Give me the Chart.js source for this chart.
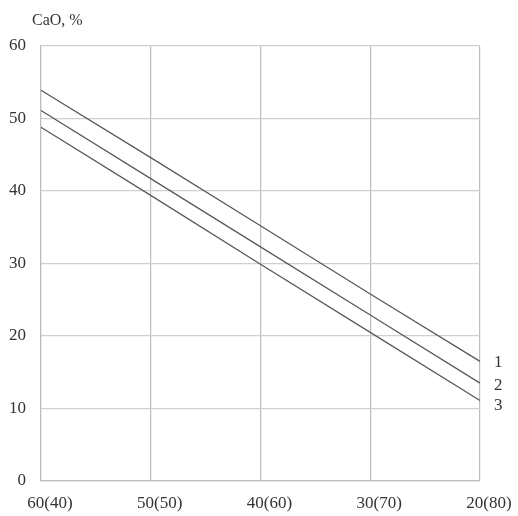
<!DOCTYPE html>
<html>
<head>
<meta charset="utf-8">
<script src="https://cdn.jsdelivr.net/npm/chart.js@4.4.1/dist/chart.umd.min.js"></script>
<style>
  html, body { margin: 0; padding: 0; background: #fff; }
  #wrap { width: 518px; height: 516px; }
</style>
</head>
<body>
<div id="wrap"><canvas id="caoChart" width="518" height="516"></canvas></div>
<script>
// Chart data
const categories = ['60(40)', '50(50)', '40(60)', '30(70)', '20(80)'];
const line1 = [53.9, 44.6, 35.2, 25.8, 16.5];
const line2 = [51.1, 41.7, 32.3, 22.9, 13.5];
const line3 = [48.8, 39.4, 29.9, 20.5, 11.1];
const lineNames = ['1', '2', '3'];
const yTicks = [0, 10, 20, 30, 40, 50, 60];

const fontFamily = '"Liberation Serif", "DejaVu Serif", serif';
const lineColor = '#5a5a5a';
const nameShift = [1, 2, 5];

// Title above the axis and the curve numbers at the right edge
const labelsPlugin = {
  id: 'labels',
  afterDraw(chart) {
    const ctx = chart.ctx;
    const area = chart.chartArea;
    ctx.save();
    ctx.fillStyle = '#333';
    ctx.font = '16px ' + fontFamily;
    ctx.textBaseline = 'middle';
    ctx.textAlign = 'left';
    ctx.fillText('CaO, %', 32, 21);

    ctx.font = '17px ' + fontFamily;
    chart.data.datasets.forEach((ds, i) => {
      const meta = chart.getDatasetMeta(i);
      const last = meta.data[meta.data.length - 1];
      ctx.fillText(lineNames[i], area.right + 14, last.y + nameShift[i]);
    });
    ctx.restore();
  }
};

function makeDataset(values) {
  return {
    data: values,
    borderColor: lineColor,
    borderWidth: 1.3,
    pointRadius: 0,
    tension: 0,
    fill: false
  };
}

new Chart(document.getElementById('caoChart'), {
  type: 'line',
  data: {
    labels: categories,
    datasets: [makeDataset(line1), makeDataset(line2), makeDataset(line3)]
  },
  options: {
    responsive: false,
    animation: false,
    layout: {
      padding: { top: 46, right: 38, bottom: 0, left: 0 }
    },
    plugins: {
      legend: { display: false },
      tooltip: { enabled: false }
    },
    scales: {
      x: {
        type: 'category',
        offset: false,
        grid: { color: '#bdbdbd', lineWidth: 1.2, drawTicks: false },
        border: { color: '#bdbdbd', width: 1.2 },
        ticks: {
          color: '#333',
          font: { family: fontFamily, size: 17 },
          padding: 12,
          labelOffset: 9,
          maxRotation: 0,
          autoSkip: false
        },
        afterFit(scale) { scale.height = 35; }
      },
      y: {
        min: 0,
        max: 60,
        grid: { color: '#cfcfcf', lineWidth: 1.2, drawTicks: false },
        border: { color: '#bdbdbd', width: 1.2 },
        afterBuildTicks(scale) {
          scale.ticks = yTicks.map(v => ({ value: v }));
        },
        ticks: {
          color: '#333',
          font: { family: fontFamily, size: 17 },
          padding: 15
        },
        afterFit(scale) { scale.width = 41; }
      }
    }
  },
  plugins: [labelsPlugin]
});
</script>
</body>
</html>
